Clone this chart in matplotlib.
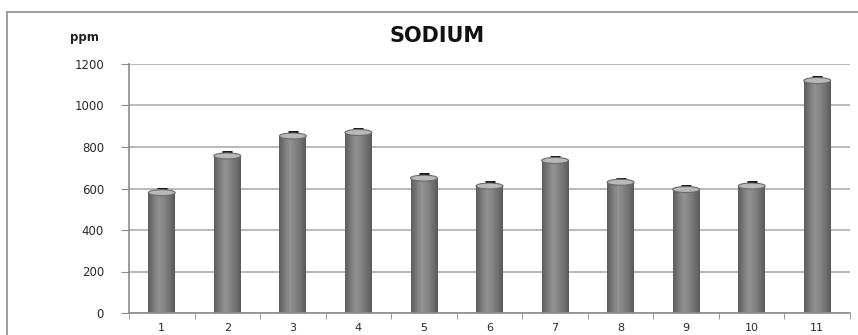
import numpy as np
import matplotlib
matplotlib.use("Agg")
import matplotlib.pyplot as plt
from matplotlib.patches import Ellipse, Rectangle
from matplotlib.colors import LinearSegmentedColormap

# Sodium concentration per sample (ppm)
samples = ["1", "2", "3", "4", "5", "6", "7", "8", "9", "10", "11"]
sodium_ppm = [580, 757, 853, 870, 650, 612, 735, 630, 595, 612, 1120]
sodium_err = [18, 18, 18, 18, 18, 18, 18, 18, 18, 18, 18]
y_ticks = [0, 200, 400, 600, 800, 1000, 1200]

fig = plt.figure(figsize=(8.58, 3.35), dpi=100)
fig.patch.set_facecolor("white")

# chart frame
fig.patches.append(Rectangle((7 / 858, -0.2), 1.2, 1 - 12 / 335 + 0.2,
                             transform=fig.transFigure, fill=False,
                             edgecolor="#8c8c8c", linewidth=1.2))

ax = fig.add_axes([129 / 858, 22 / 335, 721 / 858, 249 / 335])

x = np.arange(1, len(samples) + 1)
bar_w = 0.41

cyl = LinearSegmentedColormap.from_list(
    "cyl", ["#5c5c5c", "#7a7a7a", "#939393", "#858585", "#727272", "#5a5a5a"])
grad = np.linspace(0, 1, 64).reshape(1, -1)

# pixel height of the cylinder top in data units
px_per_unit = 249 / 1200
top_h = 6 / px_per_unit

bars = ax.bar(x, sodium_ppm, width=bar_w, color="#7d7d7d", zorder=2,
              linewidth=0)
for b, v in zip(bars, sodium_ppm):
    x0 = b.get_x()
    im = ax.imshow(grad, cmap=cyl, aspect="auto",
                   extent=(x0, x0 + bar_w, 0, v), zorder=2.1,
                   interpolation="bicubic")
    im.set_clip_path(b)
    ax.add_patch(Ellipse((x0 + bar_w / 2, v), bar_w, top_h,
                         facecolor="#b9b9b9", edgecolor="#6a6a6a",
                         linewidth=0.8, zorder=3))

# upper error only; stem and lower cap sit behind the cylinder top
ax.errorbar(x, sodium_ppm, yerr=[[0] * len(sodium_err), sodium_err],
            fmt="none", ecolor="black", elinewidth=1.0, capsize=3.5,
            capthick=2.0, zorder=2.5)

ax.set_xlim(0.5, len(samples) + 0.5)
ax.set_ylim(0, 1200)

# axes styling
for s in ("top", "right"):
    ax.spines[s].set_visible(False)
for s in ("left", "bottom"):
    ax.spines[s].set_color("#8c8c8c")
    ax.spines[s].set_linewidth(1.2)

ax.set_yticks(y_ticks)
ax.set_yticklabels([str(t) for t in y_ticks])
ax.yaxis.grid(True, color="#a6a6a6", linewidth=1.1, zorder=0)
ax.set_axisbelow(True)
ax.tick_params(axis="y", length=6, color="#8c8c8c", labelsize=8.5,
               labelcolor="#2a2a2a", pad=12)

ax.set_xticks(x)
ax.set_xticklabels(samples)
ax.set_xticks(np.arange(0.5, len(samples) + 1.0, 1.0), minor=True)
ax.tick_params(axis="x", which="major", length=0, labelsize=8,
               labelcolor="#2a2a2a", pad=7)
ax.tick_params(axis="x", which="minor", length=4, color="#8c8c8c",
               direction="out")

fig.text(437 / 858, 1 - 36 / 335, "SODIUM", ha="center", va="center",
         fontsize=15, fontweight="bold", family="DejaVu Sans", color="#111111")
fig.text(84 / 858, 1 - 37 / 335, "ppm", ha="center", va="center",
         fontsize=8.5, fontweight="bold", color="#222222")

fig.savefig("out.png", dpi=100, facecolor="white")
